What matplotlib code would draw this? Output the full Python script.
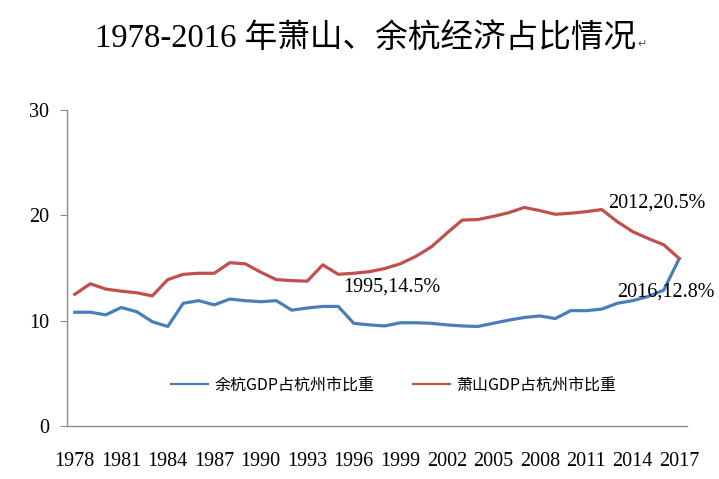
import matplotlib
matplotlib.use('Agg')
import matplotlib.pyplot as plt

plt.rcParams['font.family'] = ['Liberation Serif', 'Noto Sans CJK SC', 'DejaVu Sans']

years = list(range(1978, 2018))

# 余杭GDP占杭州市比重 (%)
yuhang = [10.8, 10.8, 10.55, 11.25, 10.85, 9.9, 9.45, 11.65, 11.9, 11.5,
          12.05, 11.9, 11.8, 11.9, 11.0, 11.2, 11.35, 11.35, 9.75, 9.6,
          9.5, 9.8, 9.8, 9.75, 9.6, 9.5, 9.45, 9.75, 10.05, 10.3,
          10.45, 10.2, 10.95, 10.95, 11.1, 11.65, 11.9, 12.3, 12.9, 15.9]

# 萧山GDP占杭州市比重 (%)
xiaoshan = [12.5, 13.5, 13.0, 12.8, 12.65, 12.35, 13.9, 14.4, 14.5, 14.5,
            15.5, 15.4, 14.6, 13.9, 13.8, 13.75, 15.3, 14.4, 14.5, 14.65,
            14.95, 15.4, 16.1, 17.0, 18.3, 19.55, 19.6, 19.9, 20.25, 20.75,
            20.45, 20.1, 20.2, 20.35, 20.55, 19.4, 18.45, 17.8, 17.2, 15.9]

labels = ['余杭GDP占杭州市比重', '萧山GDP占杭州市比重']
notes = [('1995,14.5%', 343, 287), ('2012,20.5%', 608, 203), ('2016,12.8%', 617, 292)]

blue = '#4a7ebb'
red = '#c0504d'
axis_gray = '#8c8c8c'

fig = plt.figure(figsize=(7.19, 4.79), dpi=100)
ax = fig.add_axes([67 / 719, 1 - 426 / 479, 620 / 719, 316 / 479])

x = list(range(len(years)))
ax.plot(x, yuhang, color=blue, lw=2.3, solid_joinstyle='round', label=labels[0])
ax.plot(x, xiaoshan, color=red, lw=2.3, solid_joinstyle='round', label=labels[1])

ax.set_xlim(-0.5, len(years) - 0.5)
ax.set_ylim(0, 30)
ax.set_yticks([0, 10, 20, 30])
ax.set_xticks(x[::3])
ax.set_xticklabels([str(y) for y in years[::3]])

for s in ['top', 'right']:
    ax.spines[s].set_visible(False)
for s in ['left', 'bottom']:
    ax.spines[s].set_color(axis_gray)
    ax.spines[s].set_linewidth(1.0)

ax.tick_params(axis='y', length=5, color=axis_gray, labelsize=14.5, pad=8)
ax.tick_params(axis='x', length=0, labelsize=14.5, pad=19)

leg = ax.legend(loc='center', bbox_to_anchor=(0.527, 0.13), ncol=2, frameon=False,
                handlelength=2.3, columnspacing=2.4, handletextpad=0.4,
                prop={'family': ['Noto Sans CJK SC'], 'size': 11.5})
for h in leg.get_lines():
    h.set_linewidth(1.6)

for txt, px, py in notes:
    fig.text(px / 719, 1 - py / 479, txt, fontsize=14.5, ha='left', va='center')

title = fig.text(95 / 719, 1 - 39 / 479, '1978-2016 年萧山、余杭经济占比情况', fontsize=23.5,
                 ha='left', va='center')
ax.annotate('↵', xy=(1, 0.35), xycoords=title, xytext=(1, 0), textcoords='offset points',
            fontsize=8, ha='left', va='center', family=['DejaVu Sans'], color='#555555',
            annotation_clip=False)

fig.savefig('out.png', dpi=100)
